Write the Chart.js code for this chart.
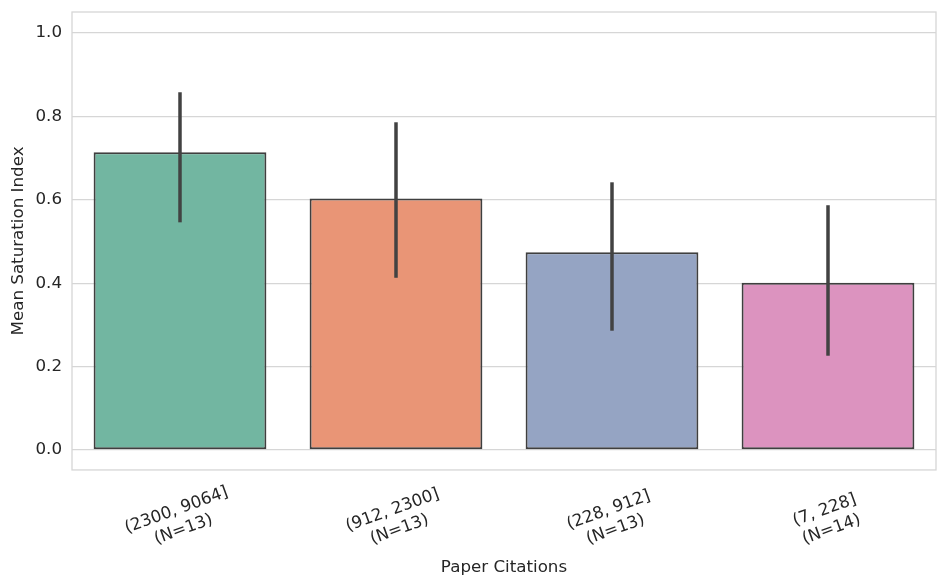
<!DOCTYPE html>
<html>
<head>
<meta charset="utf-8">
<script src="https://cdn.jsdelivr.net/npm/chart.js@4/dist/chart.umd.min.js"></script>
<style>
html,body{margin:0;padding:0;background:#fff;}
#wrap{width:947px;height:586px;position:relative;}
</style>
</head>
<body>
<div id="wrap"><canvas id="c" width="947" height="586"></canvas></div>
<script>
const categories = [["(2300, 9064]","(N=13)"],["(912, 2300]","(N=13)"],["(228, 912]","(N=13)"],["(7, 228]","(N=14)"]];
const meanValues = [0.714, 0.603, 0.474, 0.401];
const errLow = [0.546, 0.413, 0.286, 0.226];
const errHigh = [0.858, 0.786, 0.642, 0.587];
const yTickValues = [0.0, 0.2, 0.4, 0.6, 0.8, 1.0];
const barColors = ["#72b6a1", "#e99576", "#95a4c3", "#dc93bf"];

const FONT = 'DejaVu Sans';
const TEXT_COLOR = '#262626';

const errorBarPlugin = {
  id: 'errorBars',
  afterDatasetsDraw(chart) {
    const ctx = chart.ctx;
    const meta = chart.getDatasetMeta(0);
    const y = chart.scales.y;
    ctx.save();
    ctx.strokeStyle = '#424242';
    ctx.lineWidth = 3.5;
    ctx.lineCap = 'butt';
    meta.data.forEach((bar, i) => {
      ctx.beginPath();
      ctx.moveTo(bar.x, y.getPixelForValue(errLow[i]));
      ctx.lineTo(bar.x, y.getPixelForValue(errHigh[i]));
      ctx.stroke();
    });
    ctx.restore();
  }
};

const framePlugin = {
  id: 'frame',
  beforeDatasetsDraw(chart) {
    const a = chart.chartArea;
    const ctx = chart.ctx;
    ctx.save();
    ctx.strokeStyle = '#d6d6d6';
    ctx.lineWidth = 1.3;
    ctx.strokeRect(a.left, a.top, a.right - a.left, a.bottom - a.top);
    ctx.restore();
  }
};

// rotated, centre-aligned two-line category labels (matplotlib style), positioned from the x scale
const xLabelPlugin = {
  id: 'xLabels',
  afterDraw(chart) {
    const xs = chart.scales.x;
    const ctx = chart.ctx;
    const cy = chart.chartArea.bottom + 50;
    const lh = 20.5;
    const ang = -20 * Math.PI / 180;
    ctx.save();
    ctx.font = '16.7px "' + FONT + '"';
    ctx.fillStyle = TEXT_COLOR;
    ctx.textAlign = 'center';
    ctx.textBaseline = 'middle';
    chart.data.labels.forEach((lab, i) => {
      const x = xs.getPixelForTick(i);
      ctx.save();
      ctx.translate(x, cy);
      ctx.rotate(ang);
      const n = lab.length;
      lab.forEach((line, j) => {
        ctx.fillText(line, 0, (j - (n - 1) / 2) * lh);
      });
      ctx.restore();
    });
    ctx.restore();
  }
};

new Chart(document.getElementById('c'), {
  type: 'bar',
  data: {
    labels: categories,
    datasets: [{
      data: meanValues,
      backgroundColor: barColors,
      borderColor: '#3f3f3f',
      borderWidth: 2,
      borderSkipped: false,
      barPercentage: 0.8,
      categoryPercentage: 1.0
    }]
  },
  options: {
    responsive: false,
    animation: false,
    devicePixelRatio: 1,
    layout: { padding: { left: 9, right: 11, top: 12, bottom: 8 } },
    plugins: { legend: { display: false }, tooltip: { enabled: false } },
    scales: {
      x: {
        grid: { display: false, drawTicks: false },
        border: { display: false },
        ticks: { display: false },
        afterFit(scale) { scale.paddingLeft = 0; scale.paddingRight = 0; },
        title: {
          display: true, text: 'Paper Citations', color: TEXT_COLOR,
          font: { family: FONT, size: 16.7 }, padding: { top: 88, bottom: 0 }
        }
      },
      y: {
        min: -0.048, max: 1.0505,
        afterBuildTicks(scale) { scale.ticks = yTickValues.map(v => ({ value: v })); },
        afterFit(scale) { scale.paddingTop = 0; scale.paddingBottom = 0; scale.width = 63; },
        grid: { color: '#d6d6d6', lineWidth: 1.3, drawTicks: false },
        border: { display: false },
        ticks: {
          color: TEXT_COLOR,
          font: { family: FONT, size: 16.7 },
          padding: 10,
          callback: v => Number(v).toFixed(1)
        },
        title: {
          display: true, text: 'Mean Saturation Index', color: TEXT_COLOR,
          font: { family: FONT, size: 16.7 }, padding: { top: 0, bottom: 6 }
        }
      }
    }
  },
  plugins: [errorBarPlugin, framePlugin, xLabelPlugin]
});
</script>
</body>
</html>
